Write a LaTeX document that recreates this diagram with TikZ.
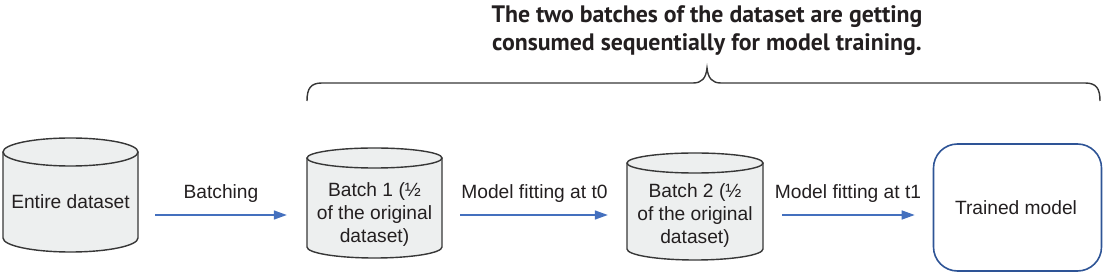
\documentclass[tikz,border=0pt]{standalone}
\usepackage{fontspec}
\setmainfont{Liberation Sans}
\newfontfamily\titlefont{PT Sans}
\usetikzlibrary{arrows.meta}
\definecolor{cylfill}{RGB}{237,239,239}
\definecolor{cylline}{RGB}{55,55,55}
\definecolor{arrblue}{RGB}{68,112,190}
\definecolor{boxblue}{RGB}{46,84,150}
\definecolor{txt}{RGB}{35,31,32}
\tikzset{
  cyl/.style={fill=cylfill, draw=cylline, line width=1.4pt},
  lbl/.style={font=\fontsize{19.2}{23}\selectfont, text=txt, align=center, inner sep=0pt},
  arr/.style={draw=arrblue, line width=1.5pt, -{Triangle[length=13pt,width=9pt]}},
  hold/.style={inner sep=0pt, minimum width=#1, draw=none},
}
\newcommand{\cylin}[6]{% cx, rx, ytop, rytop, ybot, rybot
  \fill[cylfill] (#1-#2,#3) -- (#1-#2,#5) arc[start angle=180,end angle=0,x radius=#2,y radius=#6] -- (#1+#2,#3) arc[start angle=0,end angle=180,x radius=#2,y radius=#4] -- cycle;
  \draw[cyl] (#1-#2,#3) -- (#1-#2,#5) arc[start angle=180,end angle=0,x radius=#2,y radius=#6] -- (#1+#2,#3);
  \draw[cyl] (#1,#3) ellipse[x radius=#2, y radius=#4];
}
\begin{document}
\begin{tikzpicture}[x=1pt,y=-1pt]
\useasboundingbox (0,0) rectangle (1103,275);
% cylinders
\cylin{70.5}{67.5}{152}{14}{238}{14}
\cylin{374.5}{67.5}{158}{10}{247}{11}
\cylin{695}{68}{163}{10}{249}{11}
% anchor nodes for cylinders
\node[hold=135pt, minimum height=112pt] (c1) at (70.5,196) {};
\node[hold=135pt, minimum height=110pt] (c2) at (374.5,203) {};
\node[hold=136pt, minimum height=108pt] (c3) at (695,206) {};
\node[lbl] (t1) at (70.5,202) {Entire dataset};
\node[lbl] (t2) at (374.5,215) {Batch 1 (½\\of the original\\dataset)};
\node[lbl] (t3) at (695,216) {Batch 2 (½\\of the original\\dataset)};
% trained model
\node[draw=boxblue, line width=1.6pt, rounded corners=24pt, minimum width=168pt, minimum height=127pt, inner sep=0pt] (m) at (1017.5,207.5) {};
\node[lbl] (tm) at (1016,208) {Trained model};
% arrows
\draw[arr] ([xshift=17pt]c1.east |- 0,215) coordinate (a1s) -- ([xshift=-20pt]c2.west |- 0,215) coordinate (a1e);
\draw[arr] ([xshift=18pt]c2.east |- 0,215) coordinate (a2s) -- ([xshift=-19pt]c3.west |- 0,215) coordinate (a2e);
\draw[arr] ([xshift=19pt]c3.east |- 0,215) coordinate (a3s) -- ([xshift=-18pt]m.west |- 0,215) coordinate (a3e);
\node[lbl] (l1) at (221,194) {Batching};
\node[lbl] (l2) at (534.5,194) {Model fitting at t0};
\node[lbl] (l3) at (848,194) {Model fitting at t1};
% brace
\draw[line width=1.4pt, draw=cylline] (307,101) .. controls (307,88) and (311,83) .. (322,83) -- (693,83) .. controls (702,83) and (706,78) .. (707,68) .. controls (708,78) and (712,83) .. (721,83) -- (1085,83) .. controls (1096,83) and (1100,88) .. (1100,101);
\node[font=\titlefont\bfseries\fontsize{23.8}{28}\selectfont, text=txt, align=center, inner sep=0pt] (title) at (707,31) {The two batches of the dataset are getting\\consumed sequentially for model training.};
\end{tikzpicture}
\end{document}
